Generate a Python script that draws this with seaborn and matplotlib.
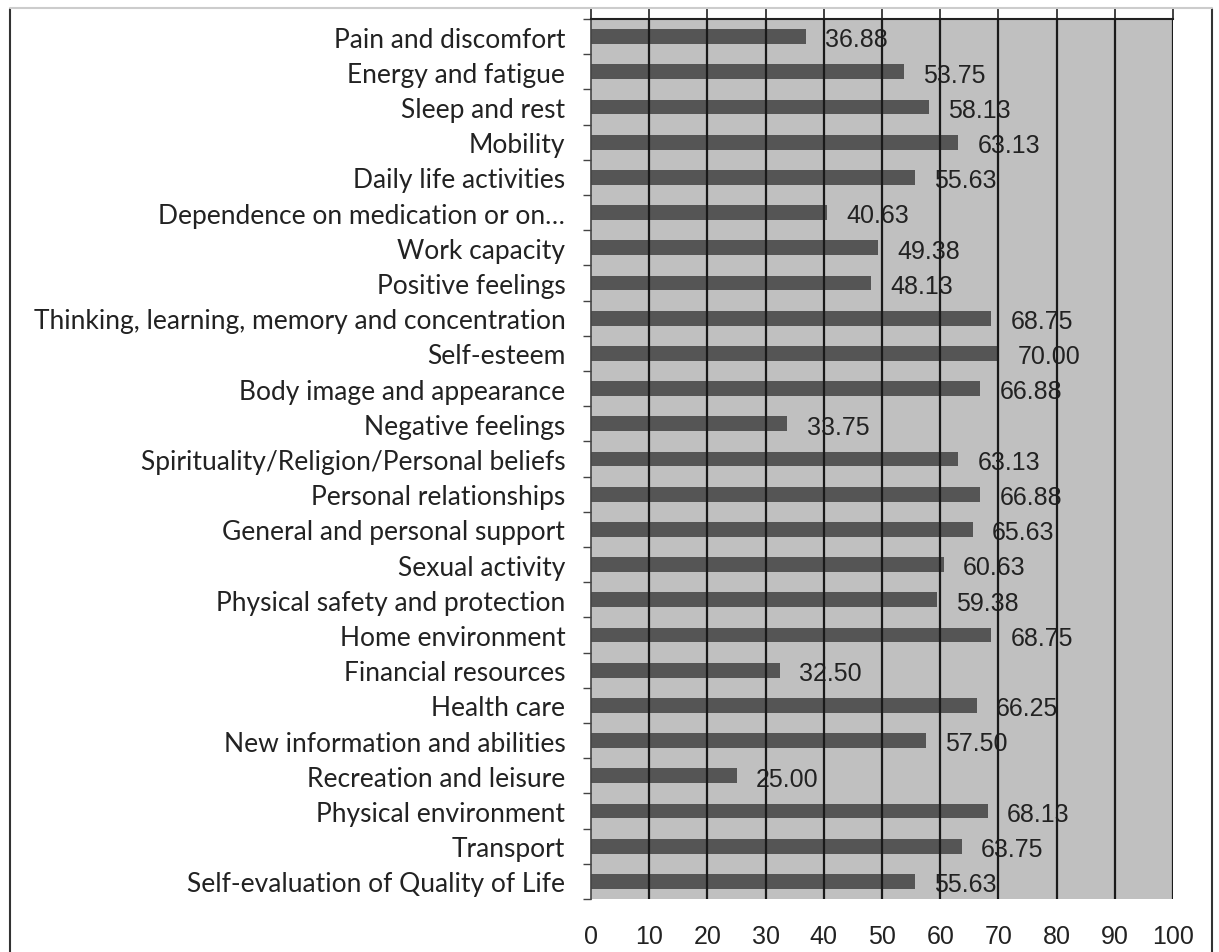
import matplotlib
matplotlib.use("Agg")
import matplotlib.pyplot as plt
from matplotlib.lines import Line2D
import seaborn as sns
import pandas as pd
import numpy as np

categories = [
    "Pain and discomfort", "Energy and fatigue", "Sleep and rest", "Mobility",
    "Daily life activities", "Dependence on medication or on\u2026", "Work capacity",
    "Positive feelings", "Thinking, learning, memory and concentration", "Self-esteem",
    "Body image and appearance", "Negative feelings",
    "Spirituality/Religion/Personal beliefs", "Personal relationships",
    "General and personal support", "Sexual activity",
    "Physical safety and protection", "Home environment", "Financial resources",
    "Health care", "New information and abilities", "Recreation and leisure",
    "Physical environment", "Transport", "Self-evaluation of Quality of Life",
]
values = [36.88, 53.75, 58.13, 63.13, 55.63, 40.63, 49.38, 48.13, 68.75, 70.00,
          66.88, 33.75, 63.13, 66.88, 65.63, 60.63, 59.38, 68.75, 32.50, 66.25,
          57.50, 25.00, 68.13, 63.75, 55.63]
xticks = [0, 10, 20, 30, 40, 50, 60, 70, 80, 90, 100]

df = pd.DataFrame({"domain": categories, "score": values})

sns.set_theme(style="white")
plt.rcParams["font.family"] = ["Liberation Sans", "DejaVu Sans"]

fig = plt.figure(figsize=(12.19, 9.53), dpi=100)
ax = fig.add_axes([591 / 1219, 1 - 900 / 953, (1173 - 591) / 1219, (900 - 20) / 953])
ax.set_facecolor("#c0c0c0")

sns.barplot(data=df, y="domain", x="score", orient="h", color="#555555",
            width=0.42, saturation=1, linewidth=0, ax=ax, zorder=2)

ax.set_xlim(0, 100)
ax.set_ylim(len(categories) - 0.5, -0.5)
ax.set_xticks(xticks)
ax.set_xticklabels([str(t) for t in xticks], fontsize=18, color="#222222")
ax.set_xlabel("")
ax.set_ylabel("")
ax.tick_params(axis="x", which="major", length=0, pad=10)
ax.tick_params(axis="x", top=True, bottom=False, length=8, width=1.2, color="#222222", direction="out")
ax.set_yticks(range(len(categories)))
ax.set_yticklabels(categories, fontsize=19, family=["Lato", "DejaVu Sans"], color="#222222")
ax.tick_params(axis="y", which="major", length=0, pad=18.5)
ax.set_yticks(np.arange(-0.5, len(categories), 1), minor=True)
ax.tick_params(axis="y", which="minor", left=True, length=6, width=1, color="#444444")

for x in xticks[1:]:
    ax.axvline(x, color="#1a1a1a", lw=1.6, zorder=4)

for i, v in enumerate(values):
    ax.text(v + 3.3, i + 0.08, f"{v:.2f}", va="center", ha="left", fontsize=18,
            color="#222222", zorder=3)

for s in ["bottom", "right"]:
    ax.spines[s].set_visible(False)
ax.spines["top"].set_color("#222222")
ax.spines["top"].set_linewidth(1.5)
ax.spines["left"].set_color("#444444")
ax.spines["left"].set_linewidth(1.2)

# figure frame
fig.add_artist(Line2D([10 / 1219, 10 / 1219], [0, 1 - 10 / 953], color="#333333", lw=1.5))
fig.add_artist(Line2D([1212 / 1219, 1212 / 1219], [0, 1 - 10 / 953], color="#333333", lw=1.5))
fig.add_artist(Line2D([10 / 1219, 1212 / 1219], [1 - 9 / 953, 1 - 9 / 953], color="#cccccc", lw=1.5))

fig.savefig("out.png", dpi=100, facecolor="white")
